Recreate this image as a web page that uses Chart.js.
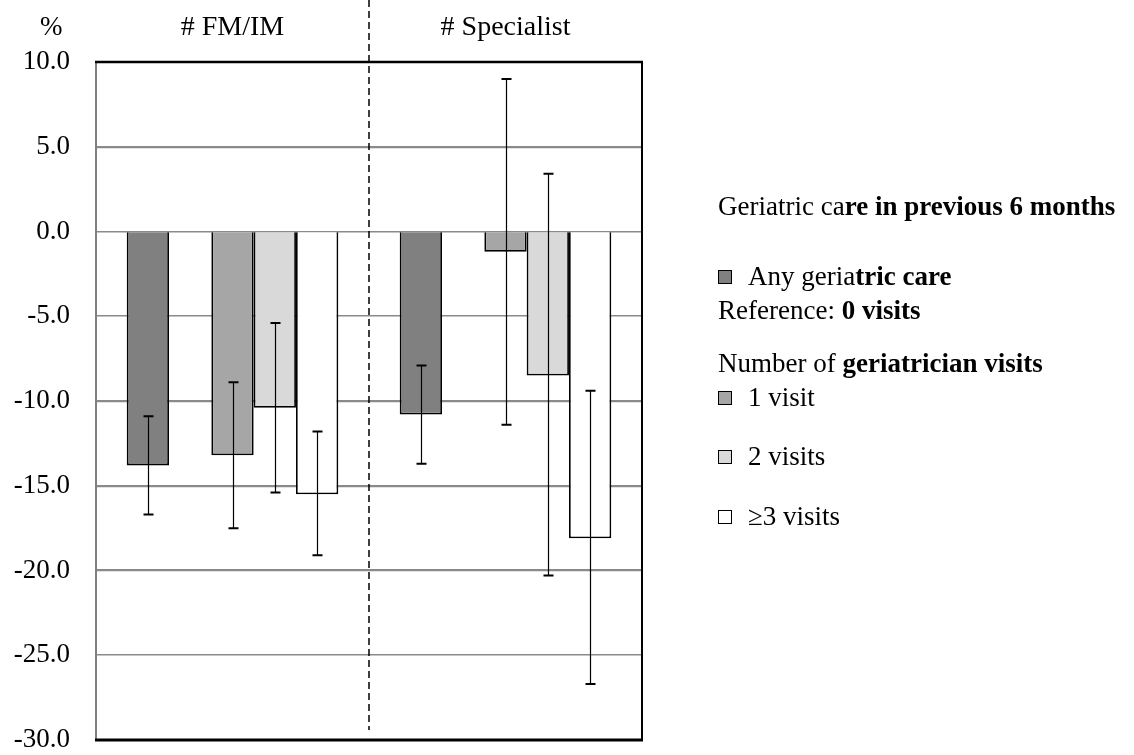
<!DOCTYPE html>
<html>
<head>
<meta charset="utf-8">
<script src="https://cdn.jsdelivr.net/npm/chart.js@4"></script>
<style>
  html, body { margin: 0; padding: 0; background: #fff; }
  #wrap { position: relative; width: 1134px; height: 755px; font-family: "Liberation Serif", "Times New Roman", serif; color: #000; }
  #c { position: absolute; left: 0; top: 0; }
  .t { position: absolute; white-space: nowrap; font-size: 27px; line-height: 27px; }
  .t b { font-weight: bold; }
  .sw { display: inline-block; width: 12px; height: 12px; border: 1px solid #000; margin-right: 16px; vertical-align: 1px; }
</style>
</head>
<body>
<div id="wrap">
  <canvas id="c" width="1134" height="755"></canvas>
  <div class="t" id="pct" style="left:40px; top:13px;">%</div>
  <div id="legend"></div>
</div>
<script>
// ---- data ----
const categories = ['# FM/IM', '# Specialist'];
const seriesLabels = ['Any geriatric care', '', '1 visit', '2 visits', '\u22653 visits'];
const anyCare   = [-13.8, -10.8];
const spacer    = [null, null];
const visit1    = [-13.2, -1.2];
const visit2    = [-10.4, -8.5];
const visit3    = [-15.5, -18.1];
const anyLow    = [-16.7, -13.7];
const anyHigh   = [-10.9, -7.9];
const v1Low     = [-17.5, -11.4];
const v1High    = [-8.9, 9.0];
const v2Low     = [-15.4, -20.3];
const v2High    = [-5.4, 3.4];
const v3Low     = [-19.1, -26.7];
const v3High    = [-11.8, -9.4];
const yTicks    = [10, 5, 0, -5, -10, -15, -20, -25, -30];

const colors = ['#808080', 'rgba(0,0,0,0)', '#a6a6a6', '#d9d9d9', '#ffffff'];

const errorBars = {
  id: 'errorBars',
  afterDatasetsDraw(chart) {
    const ctx = chart.ctx, y = chart.scales.y;
    chart.data.datasets.forEach((ds, i) => {
      if (!ds.errLow) return;
      const meta = chart.getDatasetMeta(i);
      meta.data.forEach((bar, j) => {
        const x = Math.round(bar.x) + 0.5;
        const yl = y.getPixelForValue(ds.errLow[j]);
        const yh = y.getPixelForValue(ds.errHigh[j]);
        ctx.save();
        ctx.strokeStyle = '#000';
        ctx.lineWidth = 1.2;
        ctx.beginPath(); ctx.moveTo(x, yl); ctx.lineTo(x, yh); ctx.stroke();
        ctx.lineWidth = 2;
        ctx.beginPath();
        ctx.moveTo(x - 5, yl); ctx.lineTo(x + 5, yl);
        ctx.moveTo(x - 5, yh); ctx.lineTo(x + 5, yh);
        ctx.stroke();
        ctx.restore();
      });
    });
  }
};

const frame = {
  id: 'frame',
  afterDraw(chart) {
    const ctx = chart.ctx, a = chart.chartArea, xs = chart.scales.x;
    ctx.save();
    ctx.strokeStyle = '#808080'; ctx.lineWidth = 2;
    ctx.beginPath(); ctx.moveTo(a.left, a.top); ctx.lineTo(a.left, a.bottom); ctx.stroke();
    ctx.strokeStyle = '#000'; ctx.lineWidth = 2;
    ctx.beginPath(); ctx.moveTo(a.right, a.top); ctx.lineTo(a.right, a.bottom); ctx.stroke();
    ctx.lineWidth = 2.5;
    ctx.beginPath(); ctx.moveTo(a.left - 1, a.top); ctx.lineTo(a.right + 1, a.top); ctx.stroke();
    ctx.lineWidth = 3;
    ctx.beginPath(); ctx.moveTo(a.left - 1, a.bottom); ctx.lineTo(a.right + 1, a.bottom); ctx.stroke();
    const xm = Math.round((xs.getPixelForValue(0) + xs.getPixelForValue(1)) / 2);
    ctx.lineWidth = 1.5; ctx.setLineDash([7, 4]);
    ctx.beginPath(); ctx.moveTo(xm, 0); ctx.lineTo(xm, a.bottom - 10); ctx.stroke();
    ctx.restore();
  }
};

const mk = (i, data, lo, hi) => ({
  label: seriesLabels[i], data, errLow: lo, errHigh: hi,
  backgroundColor: colors[i],
  borderColor: i === 1 ? 'rgba(0,0,0,0)' : '#000',
  borderWidth: i === 1 ? 0 : 1.8,
  categoryPercentage: 0.775, barPercentage: 1.0
});

const chart = new Chart(document.getElementById('c'), {
  type: 'bar',
  data: {
    labels: categories,
    datasets: [
      mk(0, anyCare, anyLow, anyHigh),
      mk(1, spacer, null, null),
      mk(2, visit1, v1Low, v1High),
      mk(3, visit2, v2Low, v2High),
      mk(4, visit3, v3Low, v3High)
    ]
  },
  options: {
    responsive: false,
    animation: false,
    layout: { padding: { left: 0, top: 0, right: 492, bottom: 15 } },
    plugins: { legend: { display: false }, tooltip: { enabled: false } },
    scales: {
      x: {
        position: 'top',
        grid: { display: false, drawTicks: false },
        border: { display: false },
        ticks: { color: '#000', font: { family: 'Liberation Serif', size: 28 }, padding: 18 },
        afterFit(s) { s.height = 62; s.paddingLeft = 0; s.paddingRight = 0; }
      },
      y: {
        min: -30, max: 10,
        afterBuildTicks(s) { s.ticks = yTicks.map(v => ({ value: v })); },
        grid: {
          drawTicks: false,
          color: '#8a8a8a',
          lineWidth: c => ([5, -10, -15, -20].includes(c.tick && c.tick.value) ? 2.2 : 1.6)
        },
        border: { display: false },
        ticks: {
          color: '#000', padding: 26,
          font: { family: 'Liberation Serif', size: 27 },
          callback: v => Number(v).toFixed(1)
        },
        afterFit(s) { s.width = 96; s.paddingTop = 0; s.paddingBottom = 0; }
      }
    }
  },
  plugins: [errorBars, frame]
});

// ---- HTML legend built from the datasets ----
const legendTops = { 0: 263, 2: 384, 3: 443, 4: 503 };
const boldFrom = { 0: 9 };
const lg = document.getElementById('legend');
const addLine = (top, html) => {
  const d = document.createElement('div');
  d.className = 't'; d.style.left = '718px'; d.style.top = top + 'px';
  d.innerHTML = html; lg.appendChild(d);
};
addLine(193, 'Geriatric ca<b>re in previous 6 months</b>');
chart.data.datasets.forEach((ds, i) => {
  if (!ds.label) return;
  const lab = ds.label;
  const bf = boldFrom[i];
  const txt = bf !== undefined ? lab.slice(0, bf) + '<b>' + lab.slice(bf) + '</b>' : lab;
  addLine(legendTops[i], '<span class="sw" style="background:' + ds.backgroundColor + '"></span>' + txt);
  if (i === 0) addLine(297, 'Reference: <b>0 visits</b>');
  if (i === 0) addLine(350, 'Number of <b>geriatrician visits</b>');
});
</script>
</body>
</html>
